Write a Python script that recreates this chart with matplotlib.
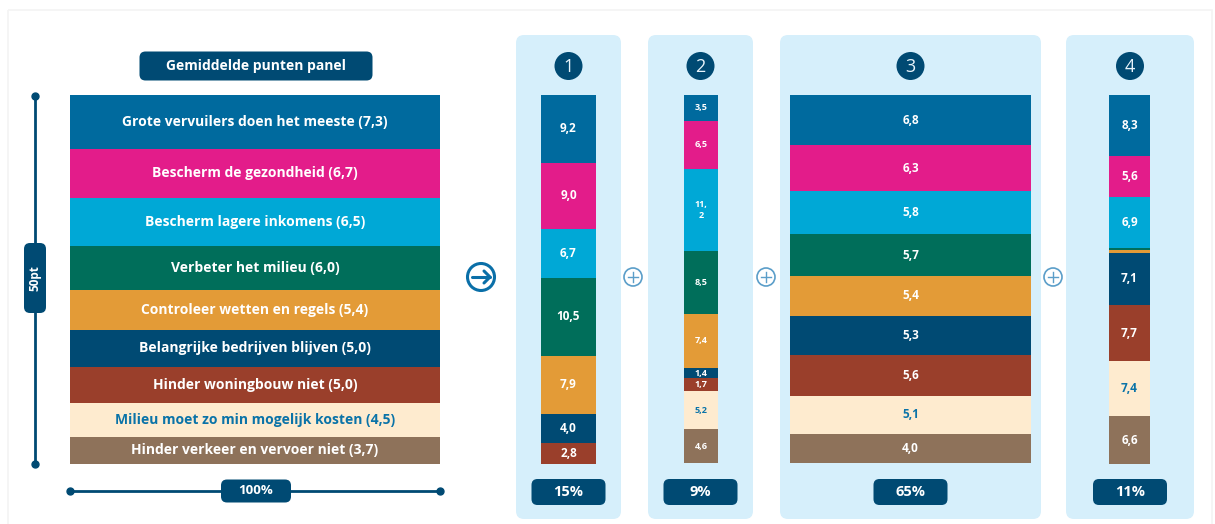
import matplotlib.pyplot as plt
from matplotlib.patches import FancyBboxPatch, Circle, Rectangle

# categories and colours
categories = [
    "Grote vervuilers doen het meeste",
    "Bescherm de gezondheid",
    "Bescherm lagere inkomens",
    "Verbeter het milieu",
    "Controleer wetten en regels",
    "Belangrijke bedrijven blijven",
    "Hinder woningbouw niet",
    "Milieu moet zo min mogelijk kosten",
    "Hinder verkeer en vervoer niet",
]
colors = ["#006a9e", "#e31c8a", "#00a8d6", "#006e5a", "#e39b37",
          "#004a73", "#9a3f2b", "#feebcf", "#8e725a"]
text_colors = ["white"] * 7 + ["#0a73a8", "white"]

panel = [7.3, 6.7, 6.5, 6.0, 5.4, 5.0, 5.0, 4.5, 3.7]
cluster1 = [9.2, 9.0, 6.7, 10.5, 7.9, 4.0, 2.8, 0, 0]
cluster2 = [3.5, 6.5, 11.2, 8.5, 7.4, 1.4, 1.7, 5.2, 4.6]
cluster3 = [6.8, 6.3, 5.8, 5.7, 5.4, 5.3, 5.6, 5.1, 4.0]
cluster4 = [8.3, 5.6, 6.9, 0.3, 0.3, 7.1, 7.7, 7.4, 6.6]
clusters = [cluster1, cluster2, cluster3, cluster4]
cluster_labels = ["1", "2", "3", "4"]
shares = [15, 9, 65, 11]

navy = "#004a73"
panel_bg = "#d6effb"
FONT = "Open Sans"

fig = plt.figure(figsize=(12.15, 5.24), dpi=100)
ax = fig.add_axes([0, 0, 1, 1])
ax.set_xlim(0, 1215)
ax.set_ylim(524, 0)
ax.axis("off")

# faint frame
ax.add_patch(Rectangle((8, 10), 1204, 520, fill=False, edgecolor="#f4f4f4", lw=1.2))

top = 95
bottom = 463
k = (bottom - top) / 50.0      # pixels per point
wscale = 370 / 100.0           # pixels per percent


def label_box(cx, cy, w, h, text, size=10, rot=0):
    ax.add_patch(FancyBboxPatch((cx - w / 2, cy - h / 2), w, h,
                                boxstyle="round,pad=0,rounding_size=6",
                                fc=navy, ec="none", zorder=3))
    ax.text(cx, cy, text, ha="center", va="center", color="white",
            fontsize=size, fontweight="bold", family=FONT, rotation=rot, zorder=4)


def stacked(cx, width, values, fmt, size):
    cum = 0
    for v, c, tc, txt in zip(values, colors, text_colors, fmt):
        if v > 0:
            ax.bar(cx, v * k, bottom=top + cum * k, width=width, color=c,
                   align="center", zorder=2)
            if txt:
                ax.text(cx, top + (cum + v / 2) * k, txt, ha="center", va="center",
                        color=tc, fontsize=size, fontweight="bold", family=FONT,
                        zorder=4, linespacing=1.2)
        cum += v


def fmtnum(v):
    return f"{v:.1f}".replace(".", ",")


# left: panel average
left_cx = 255
stacked(left_cx, 100 * wscale, panel,
        [f"{c} ({fmtnum(v)})" for c, v in zip(categories, panel)], 10)
label_box(256, 66, 233, 29, "Gemiddelde punten panel", 10)

# vertical scale line
ax.plot([35, 35], [96, 243], color=navy, lw=2, zorder=1)
ax.plot([35, 35], [313, 464], color=navy, lw=2, zorder=1)
ax.plot([35, 35], [96, 464], "o", color=navy, ms=5, zorder=2)
label_box(35, 278, 22, 70, "50pt", 8.5, rot=90)

# horizontal scale line
ax.plot([70, 221], [491, 491], color=navy, lw=2, zorder=1)
ax.plot([291, 440], [491, 491], color=navy, lw=2, zorder=1)
ax.plot([70, 440], [491, 491], "o", color=navy, ms=5, zorder=2)
label_box(256, 491, 70, 23, "100%", 9.5)

# arrow circle
arrow_c = "#0a6fa8"
ax.add_patch(Circle((481, 277), 13.5, fill=False, ec=arrow_c, lw=2.2))
ax.plot([472, 490], [277, 277], color=arrow_c, lw=2.2, solid_capstyle="round")
ax.plot([484, 490, 484], [271, 277, 283], color=arrow_c, lw=2.2,
        solid_capstyle="round", solid_joinstyle="round")

# cluster panels
panel_x = [(516, 621), (648, 753), (780, 1041), (1066, 1194)]
bar_cx = [568.5, 701, 910.5, 1129.5]
for i, vals in enumerate(clusters):
    x0, x1 = panel_x[i]
    ax.add_patch(FancyBboxPatch((x0, 35), x1 - x0, 484,
                                boxstyle="round,pad=0,rounding_size=8",
                                fc=panel_bg, ec="none", zorder=0))
    labels = []
    for v in vals:
        if v < 1 and i == 3:
            labels.append("")
        elif i == 1 and v >= 10:
            labels.append(fmtnum(v).replace(",", ",\n"))
        else:
            labels.append(fmtnum(v))
    stacked(bar_cx[i], shares[i] * wscale, vals, labels, 6.5 if i == 1 else 8.5)
    cx = (x0 + x1) / 2
    ax.add_patch(Circle((cx, 66), 14, fc=navy, ec="none", zorder=3))
    ax.text(cx, 67, cluster_labels[i], ha="center", va="center", color="#e8f4fb",
            fontsize=13, family=FONT, zorder=4)
    label_box(cx, 492, 74, 26, f"{shares[i]}%", 10.5)

# plus signs between panels
for px in [633, 766, 1053]:
    ax.add_patch(Circle((px, 277), 9, fc="white", ec="#5b9ec9", lw=1.2, zorder=3))
    ax.plot([px - 5, px + 5], [277, 277], color="#5b9ec9", lw=1, zorder=4)
    ax.plot([px, px], [272, 282], color="#5b9ec9", lw=1, zorder=4)

fig.savefig("out.png", dpi=100, facecolor="white")
